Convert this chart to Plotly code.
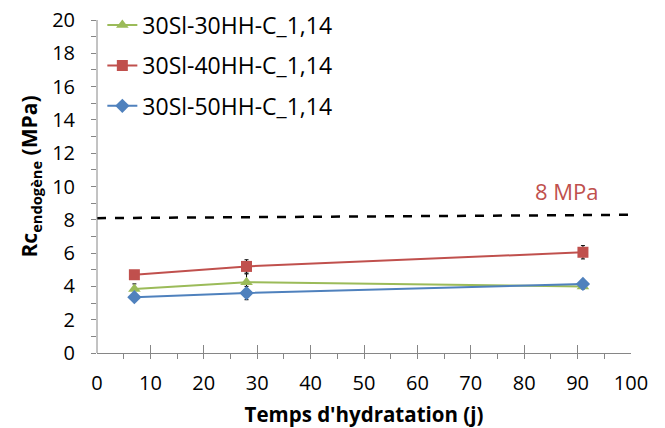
import plotly.graph_objects as go

days = [7, 28, 91]
s30 = [3.85, 4.25, 4.0]
s30_err = [0.3, 0.5, 0.15]
s40 = [4.7, 5.2, 6.05]
s40_err = [0.2, 0.4, 0.4]
s50 = [3.35, 3.6, 4.15]
s50_err = [0.2, 0.4, 0.15]
names = ["30Sl-30HH-C_1,14", "30Sl-40HH-C_1,14", "30Sl-50HH-C_1,14"]
threshold_x = [0, 100]
threshold_y = [8.1, 8.3]
y_ticks = [0, 2, 4, 6, 8, 10, 12, 14, 16, 18, 20]
y_minor = [1, 3, 5, 7, 9, 11, 13, 15, 17, 19]
Y_MAX = 20

FONT = "Open Sans"
fig = go.Figure()
specs = [(s30, s30_err, "#9BBB59", "triangle-up", names[0]),
         (s40, s40_err, "#C0504D", "square", names[1]),
         (s50, s50_err, "#4F81BD", "diamond", names[2])]
for i, (vals, err, col, sym, nm) in enumerate(specs):
    fig.add_trace(go.Scatter(
        x=days, y=vals, name=nm, mode="lines+markers",
        line=dict(color=col, width=2),
        marker=dict(symbol=sym, size=11, color=col),
        error_y=dict(type="data", array=err, color="black", thickness=1, width=2),
        legendgroup=str(i)))

fig.add_trace(go.Scatter(x=threshold_x, y=threshold_y, mode="lines",
                         line=dict(color="black", width=2.5, dash="dash"),
                         showlegend=False, hoverinfo="skip"))
fig.add_annotation(x=88, y=9.7, text="8 MPa", showarrow=False,
                   font=dict(family=FONT, size=22, color="#C0504D"))
# y axis line only up to the last tick (plot area extends above it for the legend)
fig.add_shape(type="line", xref="paper", yref="y", x0=0, x1=0, y0=0, y1=Y_MAX,
              line=dict(color="#868686", width=1))

fig.update_layout(
    width=665, height=428,
    margin=dict(l=97, r=34, t=0, b=75),
    paper_bgcolor="white", plot_bgcolor="white",
    font=dict(family=FONT, size=20, color="black"),
    showlegend=True,
    legend=dict(x=0.01, y=0.99, xanchor="left", yanchor="top",
                font=dict(family=FONT, size=23), tracegroupgap=7.5,
                bgcolor="rgba(0,0,0,0)", itemwidth=30),
    xaxis=dict(range=[0, 100], dtick=10, showgrid=False, zeroline=False,
               showline=True, linecolor="#868686", linewidth=1,
               ticks="inside", ticklen=8, tickcolor="#868686", automargin=False,
               ticklabelstandoff=12,
               minor=dict(dtick=5, ticks="outside", ticklen=5, tickcolor="#868686"),
               title=dict(text="<b>Temps d'hydratation (j)</b>", font=dict(size=20.5), standoff=13)),
    yaxis=dict(range=[0, Y_MAX * 353 / 333], tickmode="array", tickvals=y_ticks,
               showgrid=False, zeroline=False, showline=False,
               ticks="outside", ticklen=5, tickcolor="#868686", automargin=False,
               ticklabelstandoff=12, ticklabeloverflow="allow",
               minor=dict(tickmode="array", tickvals=y_minor, ticks="outside", ticklen=5,
                          tickcolor="#868686", showgrid=False),
               title=dict(text="<b>Rc<sub>endogène</sub> (MPa)</b>", font=dict(size=21), standoff=8)),
)
# remove the browser's default 8px body margin so the figure sits at the page origin
fig.write_html("out.html", config={"displayModeBar": False},
               post_script="document.body.style.margin='0px';")
